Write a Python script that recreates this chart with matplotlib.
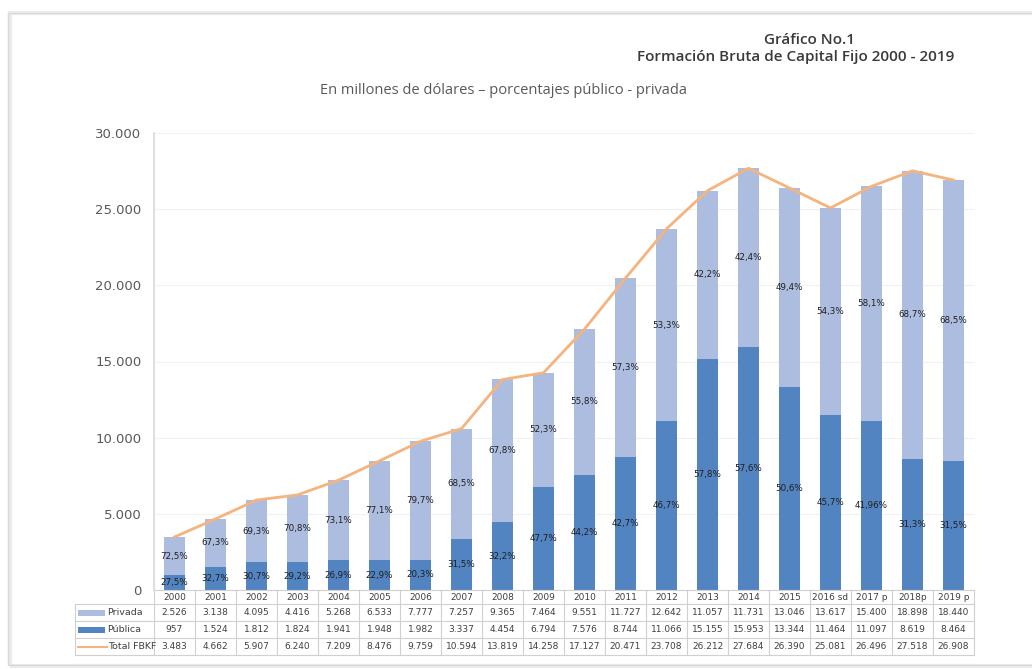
import matplotlib.pyplot as plt
from matplotlib.patches import Rectangle
from matplotlib.lines import Line2D
import matplotlib.transforms as mtransforms

# data (millones de dólares)
years = ["2000", "2001", "2002", "2003", "2004", "2005", "2006", "2007", "2008", "2009",
         "2010", "2011", "2012", "2013", "2014", "2015", "2016 sd", "2017 p", "2018p", "2019 p"]
privada = [2526, 3138, 4095, 4416, 5268, 6533, 7777, 7257, 9365, 7464,
           9551, 11727, 12642, 11057, 11731, 13046, 13617, 15400, 18898, 18440]
publica = [957, 1524, 1812, 1824, 1941, 1948, 1982, 3337, 4454, 6794,
           7576, 8744, 11066, 15155, 15953, 13344, 11464, 11097, 8619, 8464]
total = [3483, 4662, 5907, 6240, 7209, 8476, 9759, 10594, 13819, 14258,
         17127, 20471, 23708, 26212, 27684, 26390, 25081, 26496, 27518, 26908]
pct_privada = ["72,5%", "67,3%", "69,3%", "70,8%", "73,1%", "77,1%", "79,7%", "68,5%", "67,8%", "52,3%",
               "55,8%", "57,3%", "53,3%", "42,2%", "42,4%", "49,4%", "54,3%", "58,1%", "68,7%", "68,5%"]
pct_publica = ["27,5%", "32,7%", "30,7%", "29,2%", "26,9%", "22,9%", "20,3%", "31,5%", "32,2%", "47,7%",
               "44,2%", "42,7%", "46,7%", "57,8%", "57,6%", "50,6%", "45,7%", "41,96%", "31,3%", "31,5%"]
yticks = [0, 5000, 10000, 15000, 20000, 25000, 30000]

C_PRIV = "#adbddf"
C_PUB = "#5384c2"
C_LINE = "#f5b37d"
C_TEXT = "#595959"
C_GRID = "#d0d0d0"


def fmt(v):
    return f"{v:,}".replace(",", ".")


W, H = 1032, 669
fig = plt.figure(figsize=(W / 100, H / 100), dpi=100)
fig.patch.set_facecolor("white")

# outer frame with a soft shadow
fig.patches.append(Rectangle((10 / W, 1 - 666 / H), 1.2, (666 - 13) / H, transform=fig.transFigure,
                             facecolor="none", edgecolor="#ececec", lw=3))
fig.patches.append(Rectangle((8 / W, 1 - 665 / H), 1.2, (665 - 13) / H, transform=fig.transFigure,
                             facecolor="none", edgecolor="#d9d9d9", lw=1))

ax = fig.add_axes([154 / W, 1 - 590 / H, 820 / W, 457 / H])
x = list(range(len(years)))
bw = 0.52

ax.bar(x, publica, bw, color=C_PUB, zorder=2)
ax.bar(x, privada, bw, bottom=publica, color=C_PRIV, zorder=2)
ax.plot(x, total, color=C_LINE, lw=2, zorder=3)

for i in x:
    ax.text(i, publica[i] / 2, pct_publica[i], ha="center", va="center",
            fontsize=6.3, color="#1f1f1f", zorder=4)
    ax.text(i, publica[i] + privada[i] / 2, pct_privada[i], ha="center", va="center",
            fontsize=6.3, color="#1f1f1f", zorder=4)

ax.set_xlim(-0.5, len(years) - 0.5)
ax.set_ylim(0, 30000)
ax.set_yticks(yticks)
ax.set_yticklabels([fmt(v) for v in yticks], fontsize=9.5, color=C_TEXT)
ax.tick_params(axis="y", length=0, pad=9)
ax.set_xticks([])
ax.grid(axis="y", color="#f0f0f0", lw=0.8, zorder=0)
for s in ["top", "right", "bottom"]:
    ax.spines[s].set_visible(False)
ax.spines["left"].set_color("#d9d9d9")
ax.spines["left"].set_linewidth(1.2)

# data table under the bars, drawn in data-x / pixel-y
trans = mtransforms.blended_transform_factory(ax.transData, fig.transFigure)


def fy(py):
    return 1 - py / H


rows_y = [590, 604, 621, 638, 655]
xl = -0.5 - (154 - 75) / 41.0
xr = len(years) - 0.5
kw = dict(transform=trans, color=C_GRID, lw=0.8, clip_on=False)

# horizontal lines
for py in rows_y[1:]:
    ax.add_line(Line2D([xl, xr], [fy(py), fy(py)], **kw))
ax.add_line(Line2D([-0.5, xr], [fy(590), fy(590)], **kw))
# vertical lines
for k in range(len(years) + 1):
    ax.add_line(Line2D([k - 0.5, k - 0.5], [fy(590), fy(655)], **kw))
ax.add_line(Line2D([xl, xl], [fy(604), fy(655)], **kw))

tkw = dict(transform=trans, ha="center", va="center", fontsize=6.5, color="#404040", clip_on=False)
for i in x:
    ax.text(i, fy(597), years[i], **tkw)
    ax.text(i, fy(612.5), fmt(privada[i]), **tkw)
    ax.text(i, fy(629.5), fmt(publica[i]), **tkw)
    ax.text(i, fy(646.5), fmt(total[i]), **tkw)

# row labels with legend keys
sx0 = xl + 3 / 41.0
sx1 = xl + 30 / 41.0
ax.add_patch(Rectangle((sx0, fy(615.5)), sx1 - sx0, 6 / H, transform=trans,
                       facecolor=C_PRIV, edgecolor="none", clip_on=False))
ax.add_patch(Rectangle((sx0, fy(632.5)), sx1 - sx0, 6 / H, transform=trans,
                       facecolor=C_PUB, edgecolor="none", clip_on=False))
ax.add_line(Line2D([sx0, sx1 + 2 / 41.0], [fy(646.5), fy(646.5)], transform=trans,
                   color=C_LINE, lw=1.5, clip_on=False))
lkw = dict(transform=trans, ha="left", va="center", fontsize=6.8, color="#404040", clip_on=False)
ax.text(sx1 + 2 / 41.0, fy(612.5), "Privada", **lkw)
ax.text(sx1 + 2 / 41.0, fy(629.5), "Pública", **lkw)
ax.text(sx1 + 3 / 41.0, fy(646.5), "Total FBKF", **lkw)

# titles
fig.text(810 / W, fy(40), "Gráfico No.1", ha="center", va="center",
         fontsize=11, fontweight="semibold", color="#3a3a3a", family="Open Sans")
fig.text(796 / W, fy(57), "Formación Bruta de Capital Fijo 2000 - 2019", ha="center", va="center",
         fontsize=11, fontweight="semibold", color="#3a3a3a", family="Open Sans")
fig.text(503 / W, fy(90), "En millones de dólares – porcentajes público - privada", ha="center", va="center",
         fontsize=10.5, color=C_TEXT, family="Open Sans")

fig.savefig("out.png", dpi=100)
